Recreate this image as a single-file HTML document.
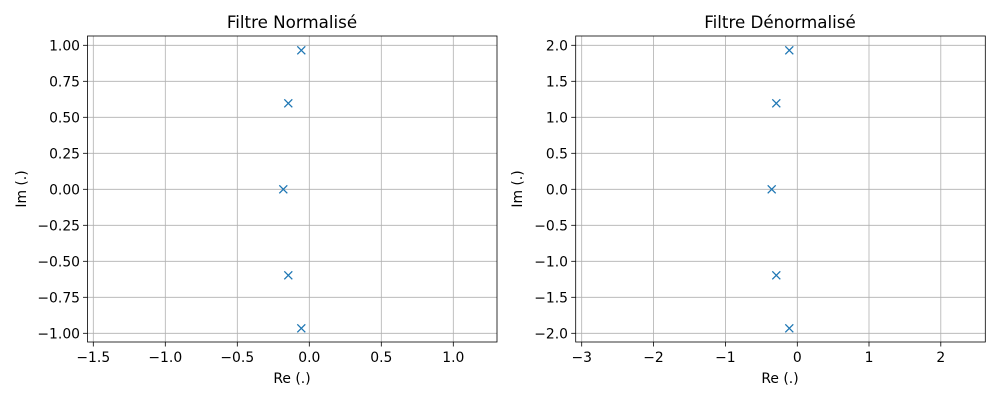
<!DOCTYPE html>
<html><head><meta charset="utf-8"><style>body{margin:0;background:#fff}svg{display:block}text{font-family:"DejaVu Sans","Liberation Sans",sans-serif;fill:#000}</style></head>
<body>
<svg width="1000" height="400" viewBox="0 0 1000 400" xmlns="http://www.w3.org/2000/svg">
<rect width="1000" height="400" fill="#fff"/>
<!-- LEFT -->
<g stroke="#b0b0b0" stroke-width="0.8">
<line x1="93.3" y1="36" x2="93.3" y2="342"/><line x1="165.3" y1="36" x2="165.3" y2="342"/><line x1="237.3" y1="36" x2="237.3" y2="342"/><line x1="309.3" y1="36" x2="309.3" y2="342"/><line x1="381.3" y1="36" x2="381.3" y2="342"/><line x1="453.3" y1="36" x2="453.3" y2="342"/>
<line x1="87.5" y1="45.3" x2="497" y2="45.3"/><line x1="87.5" y1="81.3" x2="497" y2="81.3"/><line x1="87.5" y1="117.3" x2="497" y2="117.3"/><line x1="87.5" y1="153.3" x2="497" y2="153.3"/><line x1="87.5" y1="189.3" x2="497" y2="189.3"/><line x1="87.5" y1="225.3" x2="497" y2="225.3"/><line x1="87.5" y1="261.3" x2="497" y2="261.3"/><line x1="87.5" y1="297.3" x2="497" y2="297.3"/><line x1="87.5" y1="333.3" x2="497" y2="333.3"/>
</g>
<rect x="87.5" y="36" width="409.5" height="306" fill="none" stroke="#000" stroke-width="0.8"/>
<g stroke="#000" stroke-width="0.8">
<line x1="93.3" y1="342" x2="93.3" y2="346.5"/><line x1="165.3" y1="342" x2="165.3" y2="346.5"/><line x1="237.3" y1="342" x2="237.3" y2="346.5"/><line x1="309.3" y1="342" x2="309.3" y2="346.5"/><line x1="381.3" y1="342" x2="381.3" y2="346.5"/><line x1="453.3" y1="342" x2="453.3" y2="346.5"/>
<line x1="83" y1="45.3" x2="87.5" y2="45.3"/><line x1="83" y1="81.3" x2="87.5" y2="81.3"/><line x1="83" y1="117.3" x2="87.5" y2="117.3"/><line x1="83" y1="153.3" x2="87.5" y2="153.3"/><line x1="83" y1="189.3" x2="87.5" y2="189.3"/><line x1="83" y1="225.3" x2="87.5" y2="225.3"/><line x1="83" y1="261.3" x2="87.5" y2="261.3"/><line x1="83" y1="297.3" x2="87.5" y2="297.3"/><line x1="83" y1="333.3" x2="87.5" y2="333.3"/>
</g>
<g font-size="13.9" text-anchor="middle">
<text x="93.3" y="362">−1.5</text><text x="165.3" y="362">−1.0</text><text x="237.3" y="362">−0.5</text><text x="309.3" y="362">0.0</text><text x="381.3" y="362">0.5</text><text x="453.3" y="362">1.0</text>
</g>
<g font-size="13.9" text-anchor="end">
<text x="80" y="50.5">1.00</text><text x="80" y="86.5">0.75</text><text x="80" y="122.5">0.50</text><text x="80" y="158.5">0.25</text><text x="80" y="194.5">0.00</text><text x="80" y="230.5">−0.25</text><text x="80" y="266.5">−0.50</text><text x="80" y="302.5">−0.75</text><text x="80" y="338.5">−1.00</text>
</g>
<text x="292" y="383" font-size="13.9" text-anchor="middle">Re (.)</text>
<text transform="translate(26,189) rotate(-90)" font-size="13.9" text-anchor="middle">Im (.)</text>
<text x="292" y="28" font-size="16.7" text-anchor="middle">Filtre Normalisé</text>
<g stroke="#1f77b4" stroke-width="1.3">
<path d="M297.3 46.3l8 8M305.3 46.3l-8 8"/><path d="M284.3 99.3l8 8M292.3 99.3l-8 8"/><path d="M279.3 185.3l8 8M287.3 185.3l-8 8"/><path d="M284.3 271.3l8 8M292.3 271.3l-8 8"/><path d="M297.3 324.3l8 8M305.3 324.3l-8 8"/>
</g>
<!-- RIGHT -->
<g stroke="#b0b0b0" stroke-width="0.8">
<line x1="581.7" y1="36" x2="581.7" y2="342"/><line x1="653.5" y1="36" x2="653.5" y2="342"/><line x1="725.4" y1="36" x2="725.4" y2="342"/><line x1="797.3" y1="36" x2="797.3" y2="342"/><line x1="869" y1="36" x2="869" y2="342"/><line x1="940.8" y1="36" x2="940.8" y2="342"/>
<line x1="575.7" y1="45.3" x2="985.3" y2="45.3"/><line x1="575.7" y1="81.3" x2="985.3" y2="81.3"/><line x1="575.7" y1="117.3" x2="985.3" y2="117.3"/><line x1="575.7" y1="153.3" x2="985.3" y2="153.3"/><line x1="575.7" y1="189.3" x2="985.3" y2="189.3"/><line x1="575.7" y1="225.3" x2="985.3" y2="225.3"/><line x1="575.7" y1="261.3" x2="985.3" y2="261.3"/><line x1="575.7" y1="297.3" x2="985.3" y2="297.3"/><line x1="575.7" y1="333.3" x2="985.3" y2="333.3"/>
</g>
<rect x="575.7" y="36" width="409.6" height="306" fill="none" stroke="#000" stroke-width="0.8"/>
<g stroke="#000" stroke-width="0.8">
<line x1="581.7" y1="342" x2="581.7" y2="346.5"/><line x1="653.5" y1="342" x2="653.5" y2="346.5"/><line x1="725.4" y1="342" x2="725.4" y2="346.5"/><line x1="797.3" y1="342" x2="797.3" y2="346.5"/><line x1="869" y1="342" x2="869" y2="346.5"/><line x1="940.8" y1="342" x2="940.8" y2="346.5"/>
<line x1="571.2" y1="45.3" x2="575.7" y2="45.3"/><line x1="571.2" y1="81.3" x2="575.7" y2="81.3"/><line x1="571.2" y1="117.3" x2="575.7" y2="117.3"/><line x1="571.2" y1="153.3" x2="575.7" y2="153.3"/><line x1="571.2" y1="189.3" x2="575.7" y2="189.3"/><line x1="571.2" y1="225.3" x2="575.7" y2="225.3"/><line x1="571.2" y1="261.3" x2="575.7" y2="261.3"/><line x1="571.2" y1="297.3" x2="575.7" y2="297.3"/><line x1="571.2" y1="333.3" x2="575.7" y2="333.3"/>
</g>
<g font-size="13.9" text-anchor="middle">
<text x="581.7" y="362">−3</text><text x="653.5" y="362">−2</text><text x="725.4" y="362">−1</text><text x="797.3" y="362">0</text><text x="869" y="362">1</text><text x="940.8" y="362">2</text>
</g>
<g font-size="13.9" text-anchor="end">
<text x="568" y="50.5">2.0</text><text x="568" y="86.5">1.5</text><text x="568" y="122.5">1.0</text><text x="568" y="158.5">0.5</text><text x="568" y="194.5">0.0</text><text x="568" y="230.5">−0.5</text><text x="568" y="266.5">−1.0</text><text x="568" y="302.5">−1.5</text><text x="568" y="338.5">−2.0</text>
</g>
<text x="780" y="383" font-size="13.9" text-anchor="middle">Re (.)</text>
<text transform="translate(522,189) rotate(-90)" font-size="13.9" text-anchor="middle">Im (.)</text>
<text x="780" y="28" font-size="16.7" text-anchor="middle">Filtre Dénormalisé</text>
<g stroke="#1f77b4" stroke-width="1.3">
<path d="M785.3 46.3l8 8M793.3 46.3l-8 8"/><path d="M772.3 99.3l8 8M780.3 99.3l-8 8"/><path d="M767.7 185.3l8 8M775.7 185.3l-8 8"/><path d="M772.3 271.3l8 8M780.3 271.3l-8 8"/><path d="M785.3 324.3l8 8M793.3 324.3l-8 8"/>
</g>
</svg>
</body></html>
